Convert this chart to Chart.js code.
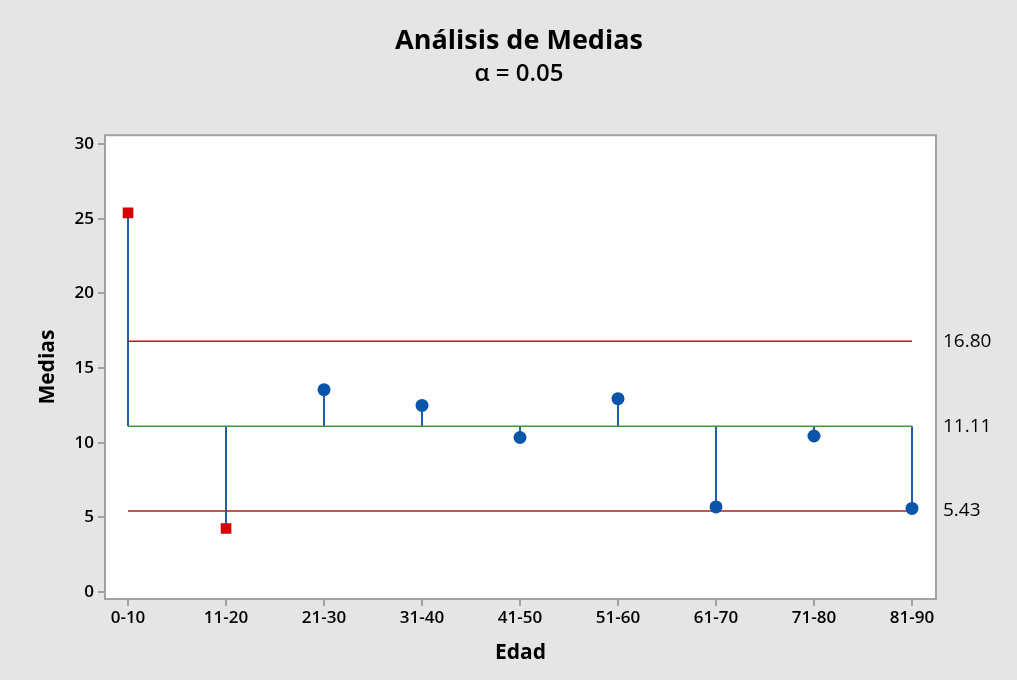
<!DOCTYPE html>
<html>
<head>
<meta charset="utf-8">
<script src="https://cdn.jsdelivr.net/npm/chart.js@4/dist/chart.umd.min.js"></script>
<style>
  html, body { margin: 0; padding: 0; background: #e5e5e5; }
  #wrap { width: 1017px; height: 680px; }
</style>
</head>
<body>
<div id="wrap"><canvas id="anom" width="1017" height="680"></canvas></div>
<script>
const categories = ['0-10','11-20','21-30','31-40','41-50','51-60','61-70','71-80','81-90'];
const means = [25.4, 4.25, 13.55, 12.5, 10.35, 12.95, 5.7, 10.45, 5.6];
const centerLine = 11.11;
const upperLimit = 16.80;
const lowerLimit = 5.43;
const yTicks = [0, 5, 10, 15, 20, 25, 30];
const limitTicks = [lowerLimit, centerLine, upperLimit];

const FONT = "'Open Sans', 'Noto Sans', sans-serif";
const RED_LINE = '#b01c22';
const GREEN = '#3c9a3c';
const BLUE = '#0b55a8';
const RED_PT = '#d60000';

const outside = means.map(v => v > upperLimit || v < lowerLimit);

// stems: center line -> mean, broken with nulls
const stems = [];
means.forEach((v, i) => {
  stems.push({ x: i, y: centerLine }, { x: i, y: v }, { x: i, y: null });
});
const hline = v => [{ x: 0, y: v }, { x: categories.length - 1, y: v }];

// white plot box with gray frame
const frame = {
  id: 'frame',
  beforeDatasetsDraw(chart) {
    const { ctx, chartArea: a } = chart;
    ctx.save();
    ctx.fillStyle = '#ffffff';
    ctx.fillRect(a.left, a.top, a.right - a.left, a.bottom - a.top);
    ctx.restore();
  },
  afterDraw(chart) {
    const { ctx, chartArea: a } = chart;
    ctx.save();
    ctx.strokeStyle = '#a2a2a2';
    ctx.lineWidth = 2;
    ctx.strokeRect(a.left, a.top, a.right - a.left, a.bottom - a.top);
    ctx.restore();
  }
};

new Chart(document.getElementById('anom'), {
  type: 'scatter',
  data: {
    datasets: [
      { type: 'line', data: stems, borderColor: '#1b60ad', borderWidth: 2, pointRadius: 0, spanGaps: false, order: 3 },
      { type: 'line', data: hline(upperLimit), borderColor: RED_LINE, borderWidth: 1.5, pointRadius: 0, order: 2 },
      { type: 'line', data: hline(lowerLimit), borderColor: RED_LINE, borderWidth: 1.5, pointRadius: 0, order: 2 },
      { type: 'line', data: hline(centerLine), borderColor: GREEN, borderWidth: 1.5, pointRadius: 0, order: 2 },
      {
        data: means.map((v, i) => ({ x: i, y: v })),
        pointStyle: outside.map(o => o ? 'rect' : 'circle'),
        pointRadius: outside.map(o => o ? 7.5 : 6.5),
        backgroundColor: outside.map(o => o ? RED_PT : BLUE),
        borderWidth: 0,
        order: 1
      }
    ]
  },
  options: {
    responsive: false,
    animation: false,
    events: [],
    layout: { padding: { left: 21, right: 0, top: 0, bottom: 0 } },
    plugins: {
      legend: { display: false },
      tooltip: { enabled: false },
      title: {
        display: true, text: 'Análisis de Medias', color: '#000',
        font: { family: FONT, size: 27, weight: 'bold' },
        padding: { top: 25, bottom: 0 }
      },
      subtitle: {
        display: true, text: 'α = 0.05', color: '#000',
        font: { family: FONT, size: 24, weight: '600' },
        padding: { top: 2, bottom: 47 }
      }
    },
    scales: {
      x: {
        type: 'linear', min: -0.235, max: 8.245,
        afterBuildTicks: s => { s.ticks = categories.map((c, i) => ({ value: i })); },
        afterFit: s => { s.height = 81; },
        border: { display: false },
        grid: { drawOnChartArea: false, drawTicks: true, tickLength: 7, color: '#a2a2a2', lineWidth: 2 },
        ticks: { color: '#000', padding: 2, maxRotation: 0, font: { family: FONT, size: 17, weight: '600' },
                 callback: v => categories[v] },
        title: { display: true, text: 'Edad', color: '#000', font: { family: FONT, size: 21, weight: 'bold' },
                 padding: { top: 0, bottom: 14 } }
      },
      y: {
        min: -0.47, max: 30.6,
        afterBuildTicks: s => { s.ticks = yTicks.map(v => ({ value: v })); },
        afterFit: s => { s.width = 84; },
        border: { display: false },
        grid: { drawOnChartArea: false, drawTicks: true, tickLength: 7, color: '#a2a2a2', lineWidth: 2 },
        ticks: { color: '#000', padding: 4, font: { family: FONT, size: 17, weight: '600' } },
        title: { display: true, text: 'Medias', color: '#000', font: { family: FONT, size: 21, weight: 'bold' },
                 padding: { top: 14, bottom: 0 } }
      },
      yLimits: {
        position: 'right',
        min: -0.47, max: 30.6,
        afterBuildTicks: s => { s.ticks = limitTicks.map(v => ({ value: v })); },
        afterFit: s => { s.width = 81; },
        border: { display: false },
        grid: { display: false, drawTicks: false },
        ticks: { color: '#000', padding: 7, font: { family: FONT, size: 19 },
                 callback: v => v.toFixed(2) }
      }
    }
  },
  plugins: [frame]
});
</script>
</body>
</html>
